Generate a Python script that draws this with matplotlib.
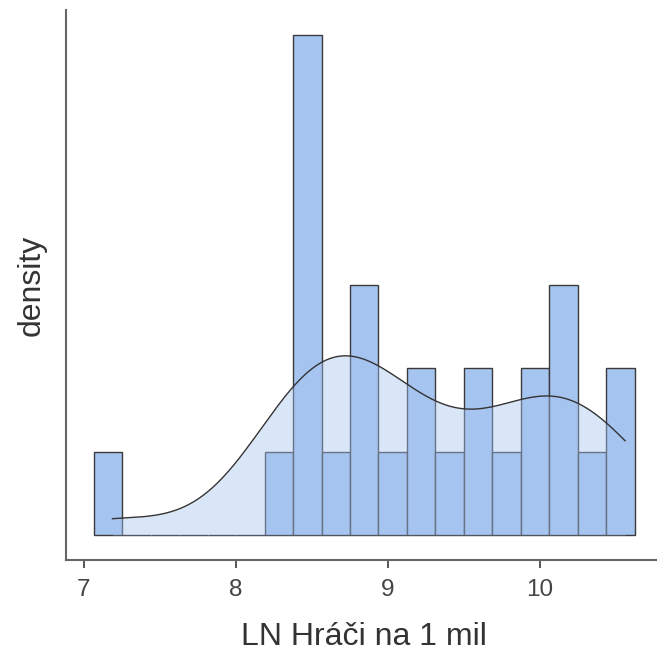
import numpy as np
import matplotlib.pyplot as plt

plt.rcParams['font.family'] = ['Liberation Sans', 'DejaVu Sans']

values = [7.19,
          8.28,
          8.40, 8.43, 8.46, 8.49, 8.52, 8.55,
          8.68,
          8.82, 8.87, 8.92,
          8.945,
          9.13, 9.145,
          9.315,
          9.685, 9.688,
          9.875,
          10.04, 10.06,
          10.12, 10.17, 10.22,
          10.40,
          10.54, 10.56]
bin_start = 7.066
bin_width = 0.1873
n_bins = 19
bw_adjust = 1.05
xticks = [7, 8, 9, 10]
x_label = 'LN Hráči na 1 mil'
y_label = 'density'

bar_color = '#A6C4F0'
edge_color = '#3a3a3a'
text_color = '#333333'

data = np.array(values)
n = len(data)
edges = bin_start + bin_width * np.arange(n_bins + 1)

# gaussian kde with R's bw.nrd0 bandwidth (like geom_density)
iqr = np.subtract(*np.percentile(data, [75, 25]))
bw = bw_adjust * 0.9 * min(data.std(ddof=1), iqr / 1.34) * n ** -0.2
grid = np.linspace(data.min(), data.max(), 400)
dens = np.exp(-0.5 * ((grid[:, None] - data[None, :]) / bw) ** 2).sum(axis=1)
dens /= n * bw * np.sqrt(2 * np.pi)

fig = plt.figure(figsize=(6.57, 6.52), dpi=100)
ax = fig.add_axes([0.1012, 0.1411, 0.9064, 0.8436])

counts, _, _ = ax.hist(data, bins=edges, density=True, color=bar_color,
                       edgecolor=edge_color, linewidth=1.0, zorder=2)
ax.fill_between(grid, dens, 0, color=bar_color, alpha=0.42, linewidth=0, zorder=3)
ax.plot(grid, dens, color='#333333', linewidth=1.0, zorder=4)

ymax = counts.max()
ax.set_ylim(-0.05 * ymax, 1.05 * ymax)
span = edges[-1] - edges[0]
ax.set_xlim(edges[0] - 0.05 * span, edges[-1] + 0.05 * span)

ax.set_xticks(xticks)
ax.set_yticks([])
ax.tick_params(axis='x', length=6, width=1.4, color='#555555',
               labelsize=17.5, labelcolor='#444444', pad=8)
for side in ['top', 'right']:
    ax.spines[side].set_visible(False)
for side in ['left', 'bottom']:
    ax.spines[side].set_color('#666666')
    ax.spines[side].set_linewidth(1.5)

ax.set_xlabel(x_label, fontsize=23, color=text_color, labelpad=15)
ax.set_ylabel(y_label, fontsize=23, color=text_color, labelpad=14)

fig.savefig('out.png', dpi=100)
